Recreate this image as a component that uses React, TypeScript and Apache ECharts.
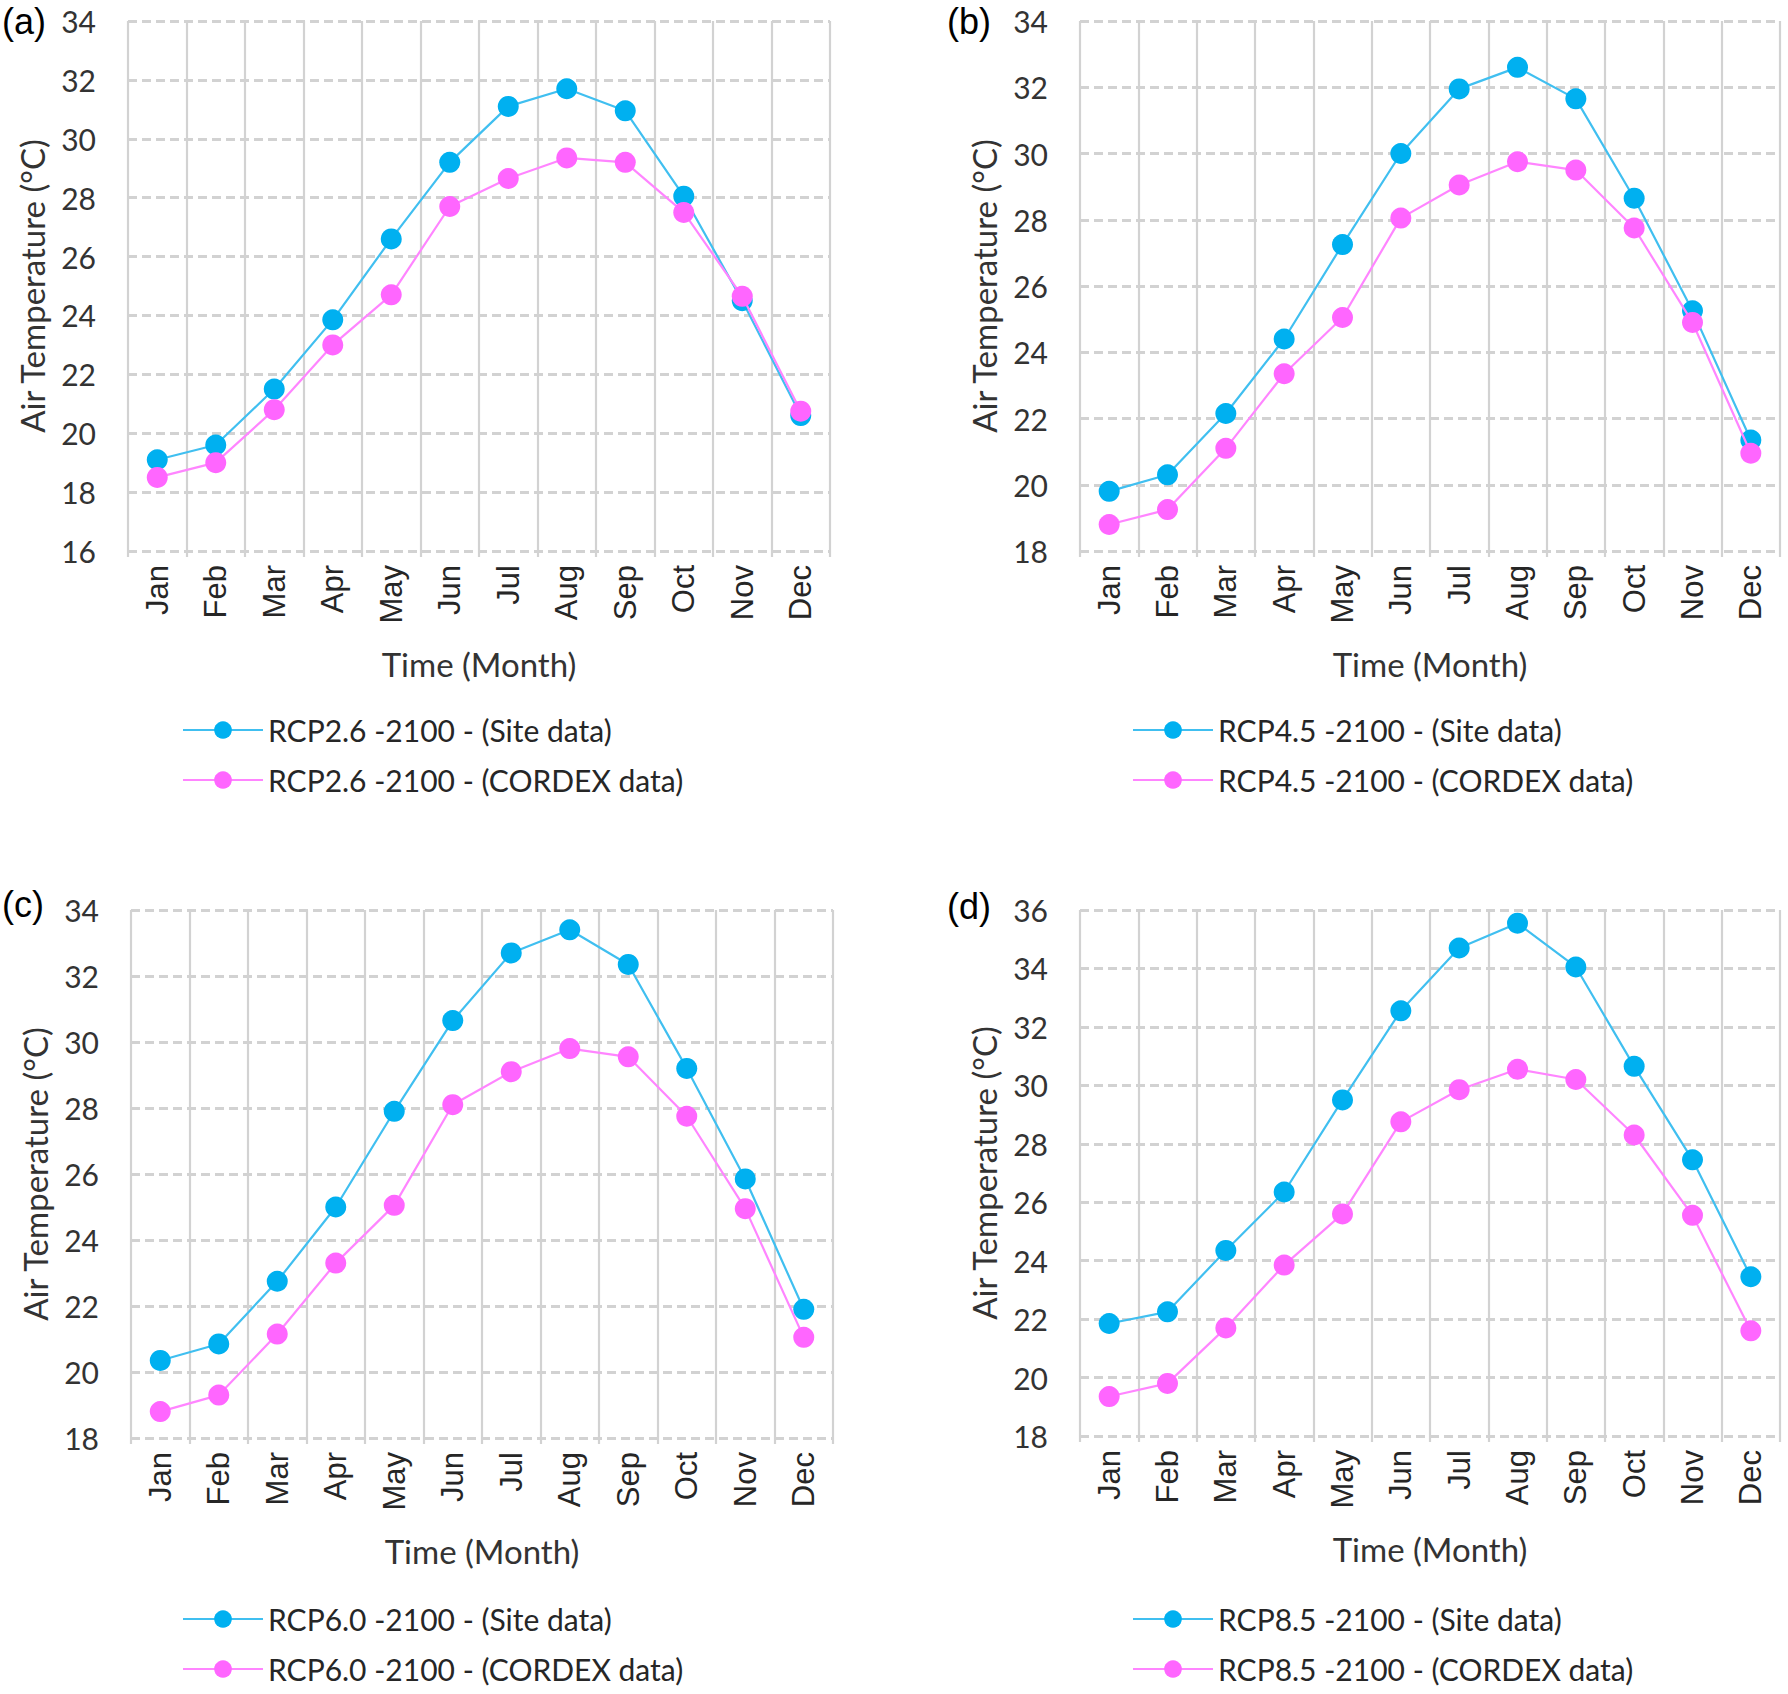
import React, { useEffect, useRef } from "react";
import * as echarts from "echarts";

const months = ["Jan", "Feb", "Mar", "Apr", "May", "Jun", "Jul", "Aug", "Sep", "Oct", "Nov", "Dec"];

const panelLabels = ["(a)", "(b)", "(c)", "(d)"];
const scenarios = ["RCP2.6", "RCP4.5", "RCP6.0", "RCP8.5"];

const siteA = [19.1, 19.6, 21.5, 23.85, 26.6, 29.2, 31.1, 31.7, 30.95, 28.05, 24.5, 20.6];
const cordexA = [18.5, 19.0, 20.8, 23.0, 24.7, 27.7, 28.65, 29.35, 29.2, 27.5, 24.65, 20.75];
const siteB = [19.8, 20.3, 22.15, 24.4, 27.25, 30.0, 31.95, 32.6, 31.65, 28.65, 25.25, 21.35];
const cordexB = [18.8, 19.25, 21.1, 23.35, 25.05, 28.05, 29.05, 29.75, 29.5, 27.75, 24.9, 20.95];
const siteC = [20.35, 20.85, 22.75, 25.0, 27.9, 30.65, 32.7, 33.4, 32.35, 29.2, 25.85, 21.9];
const cordexC = [18.8, 19.3, 21.15, 23.3, 25.05, 28.1, 29.1, 29.8, 29.55, 27.75, 24.95, 21.05];
const siteD = [21.85, 22.25, 24.35, 26.35, 29.5, 32.55, 34.7, 35.55, 34.05, 30.65, 27.45, 23.45];
const cordexD = [19.35, 19.8, 21.7, 23.85, 25.6, 28.75, 29.85, 30.55, 30.2, 28.3, 25.55, 21.6];

const yMins = [16, 18, 18, 18];
const yMaxs = [34, 34, 34, 36];
const yInterval = 2;

const siteSeries = [siteA, siteB, siteC, siteD];
const cordexSeries = [cordexA, cordexB, cordexC, cordexD];

// layout (pixels)
const grids = [
  { left: 128, top: 21, width: 702, height: 530 },
  { left: 1080, top: 21, width: 700, height: 530 },
  { left: 131, top: 910, width: 702, height: 528 },
  { left: 1080, top: 910, width: 700, height: 526 },
];
const legendPos = [
  { left: 182, top: 715 },
  { left: 1132, top: 715 },
  { left: 182, top: 1604 },
  { left: 1132, top: 1604 },
];
const labelPos = [
  { x: 2, y: 3 },
  { x: 947, y: 3 },
  { x: 2, y: 886 },
  { x: 947, y: 888 },
];

const BLUE_MARK = "#00b0f0";
const BLUE_LINE = "#40bff0";
const PINK_MARK = "#ff66ff";
const PINK_LINE = "#ff85ff";
const GRID_COLOR = "#d2d2d2";
const TEXT_FONT = "Lato";

export default function App() {
  const ref = useRef<HTMLDivElement>(null);

  useEffect(() => {
    if (!ref.current) return;
    const chart = echarts.init(ref.current, undefined, { renderer: "svg" });

    const xAxis: any[] = [];
    const yAxis: any[] = [];
    const series: any[] = [];
    const legend: any[] = [];
    const graphic: any[] = [];

    for (let i = 0; i < 4; i++) {
      xAxis.push({
        type: "category",
        gridIndex: i,
        data: months,
        boundaryGap: true,
        axisLine: { show: false },
        axisTick: { show: true, length: 6, lineStyle: { color: GRID_COLOR, width: 2.2 } },
        splitLine: { show: true, lineStyle: { color: GRID_COLOR, width: 2.2, type: "solid" } },
        axisLabel: {
          rotate: 90,
          margin: 14,
          fontFamily: "Liberation Sans",
          fontSize: 31,
          color: "#262626",
        },
        name: "Time (Month)",
        nameLocation: "middle",
        nameGap: 96,
        nameTextStyle: { fontFamily: TEXT_FONT, fontSize: 33, color: "#333333" },
      });
      yAxis.push({
        type: "value",
        gridIndex: i,
        min: yMins[i],
        max: yMaxs[i],
        interval: yInterval,
        axisLine: { show: false },
        axisTick: { show: false },
        splitLine: { show: true, lineStyle: { color: GRID_COLOR, width: 3, type: [9, 5] } },
        axisLabel: { margin: 32, fontFamily: TEXT_FONT, fontSize: 30, color: "#333333" },
        name: "Air Temperature (°C)",
        nameLocation: "middle",
        nameGap: 80,
        nameTextStyle: { fontFamily: TEXT_FONT, fontSize: 33, color: "#333333" },
      });
      const siteName = `${scenarios[i]} -2100 - (Site data)`;
      const cordexName = `${scenarios[i]} -2100 - (CORDEX data)`;
      series.push({
        type: "line",
        name: siteName,
        xAxisIndex: i,
        yAxisIndex: i,
        data: siteSeries[i],
        symbol: "circle",
        symbolSize: 21,
        lineStyle: { color: BLUE_LINE, width: 2.2 },
        itemStyle: { color: BLUE_MARK },
        z: 3,
      });
      series.push({
        type: "line",
        name: cordexName,
        xAxisIndex: i,
        yAxisIndex: i,
        data: cordexSeries[i],
        symbol: "circle",
        symbolSize: 21,
        lineStyle: { color: PINK_LINE, width: 2.2 },
        itemStyle: { color: PINK_MARK },
        z: 4,
      });
      legend.push({
        data: [siteName, cordexName],
        orient: "vertical",
        left: legendPos[i].left,
        top: legendPos[i].top,
        padding: 0,
        itemWidth: 80,
        itemHeight: 22,
        itemGap: 20,
        textStyle: { fontFamily: TEXT_FONT, fontSize: 30, color: "#262626" },
      });
      graphic.push({
        type: "text",
        left: labelPos[i].x,
        top: labelPos[i].y,
        style: {
          text: panelLabels[i],
          fontFamily: "Liberation Sans",
          fontSize: 36,
          fill: "#000000",
        },
      });
    }

    chart.setOption({
      animation: false,
      backgroundColor: "#ffffff",
      grid: grids.map((g) => ({ ...g, containLabel: false })),
      xAxis,
      yAxis,
      series,
      legend,
      graphic,
    });

    return () => chart.dispose();
  }, []);

  return (
    <div
      ref={ref}
      style={{ position: "absolute", left: 0, top: 0, width: 1788, height: 1694 }}
    />
  );
}
